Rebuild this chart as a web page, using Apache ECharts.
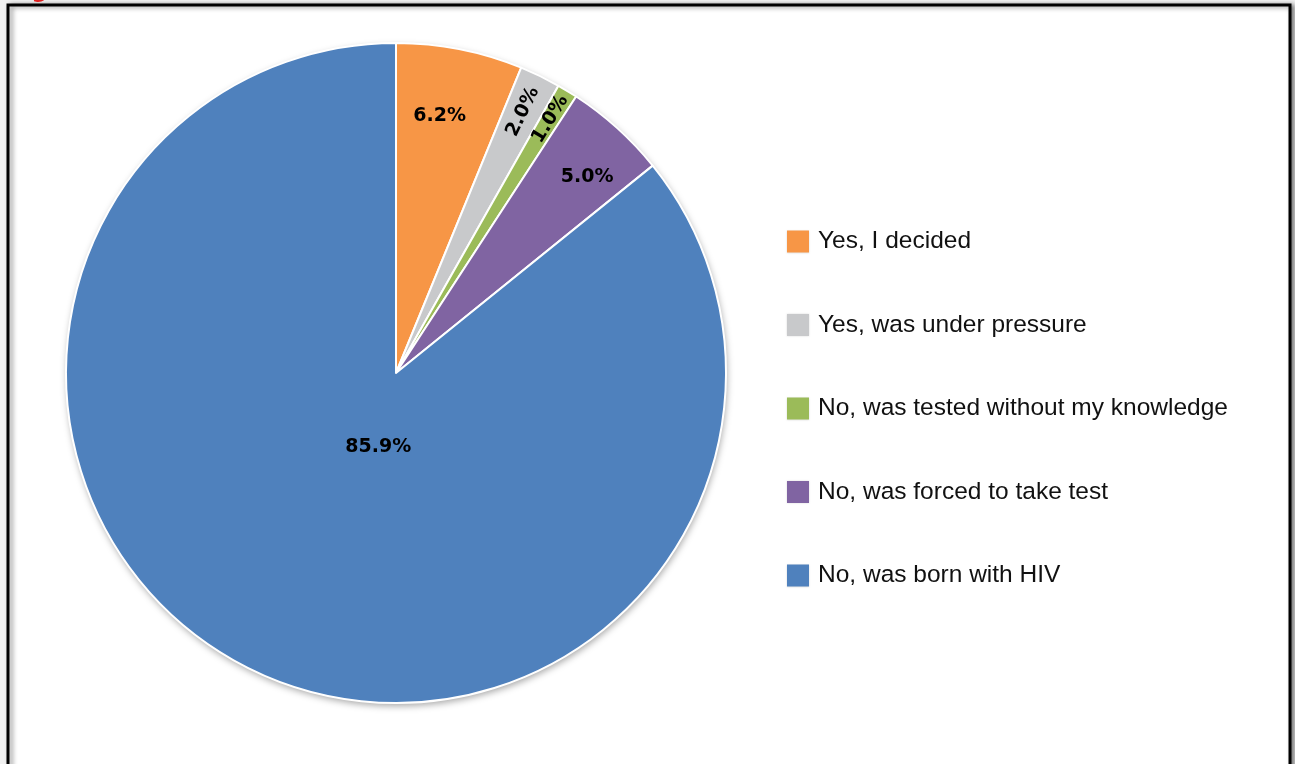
<!DOCTYPE html>
<html>
<head>
<meta charset="utf-8">
<script src="https://cdn.jsdelivr.net/npm/echarts@6/dist/echarts.min.js"></script>
<style>
  html, body { margin: 0; padding: 0; background: #f1f1f1; }
  #chart { width: 1295px; height: 764px; }
</style>
</head>
<body>
<div id="chart"></div>
<script>
// Answers to "Did you take the HIV test by your own decision?"
const categories = [
  'Yes, I decided',
  'Yes, was under pressure',
  'No, was tested without my knowledge',
  'No, was forced to take test',
  'No, was born with HIV'
];
const shares = [6.2, 2.0, 1.0, 5.0, 85.9];
const colors = ['#F79646', '#C8C9CB', '#9BBB59', '#8064A2', '#4F81BD'];
// label placement: fraction of the radius, angular nudge (deg), radial rotation
const labelReach = [0.79, 0.88, 0.90, 0.83, 0.23];
const labelTurn = [-1.5, 0, 0, 2.2, -12];
const labelRadial = [false, true, true, false, false];

const CX = 396, CY = 373, R = 330;

const total = shares.reduce((a, b) => a + b, 0);
const midAngles = [];
let acc = 0;
shares.forEach(v => { midAngles.push((acc + v / 2) / total * 2 * Math.PI); acc += v; });

const chart = echarts.init(document.getElementById('chart'), null, { renderer: 'canvas' });

chart.setOption({
  backgroundColor: 'transparent',
  animation: false,
  graphic: [
    {
      type: 'rect',
      z: 0,
      shape: { x: 8, y: 5, width: 1282, height: 790 },
      style: {
        fill: '#ffffff', stroke: '#000000', lineWidth: 3,
        shadowBlur: 5, shadowOffsetX: 3, shadowOffsetY: 1, shadowColor: 'rgba(0,0,0,0.45)'
      }
    },
    {
      type: 'text',
      z: 1,
      left: 9, top: -19,
      style: { text: 'Figure', fill: '#e02020', font: 'bold 22px "DejaVu Sans"' }
    }
  ],
  legend: {
    orient: 'vertical',
    left: 787,
    top: 229,
    padding: 0,
    itemWidth: 22,
    itemHeight: 22,
    itemGap: 58.5,
    icon: 'rect',
    selectedMode: false,
    textStyle: {
      fontFamily: '"Liberation Sans"', fontSize: 24.5, color: '#111',
      lineHeight: 22, padding: [0, 0, 0, 4]
    },
    itemStyle: { borderWidth: 0, shadowBlur: 2, shadowColor: 'rgba(0,0,0,0.15)' },
    data: categories
  },
  series: [
    {
      // soft drop shadow under the whole disc
      type: 'pie',
      silent: true,
      z: 1,
      center: [CX, CY],
      radius: R,
      label: { show: false },
      labelLine: { show: false },
      itemStyle: {
        color: '#ffffff',
        shadowBlur: 7, shadowOffsetX: 1, shadowOffsetY: 3, shadowColor: 'rgba(0,0,0,0.35)'
      },
      data: [{ value: total, name: '' }],
      legendHoverLink: false
    },
    {
      type: 'pie',
      z: 2,
      center: [CX, CY],
      radius: R,
      startAngle: 90,
      clockwise: true,
      avoidLabelOverlap: false,
      itemStyle: { borderColor: '#ffffff', borderWidth: 2 },
      label: {
        show: true,
        position: 'inside',
        formatter: p => p.value.toFixed(1) + '%',
        fontFamily: '"DejaVu Sans"',
        fontWeight: 'bold',
        fontSize: 19,
        color: '#000'
      },
      labelLine: { show: false },
      labelLayout: function (p) {
        const i = p.dataIndex;
        const a = midAngles[i] + labelTurn[i] * Math.PI / 180;
        const f = labelReach[i];
        return {
          x: CX + f * R * Math.sin(a),
          y: CY - f * R * Math.cos(a),
          align: 'center',
          verticalAlign: 'middle',
          rotate: labelRadial[i] ? 90 - midAngles[i] * 180 / Math.PI : 0
        };
      },
      data: categories.map((name, i) => ({
        name: name,
        value: shares[i],
        itemStyle: { color: colors[i] }
      }))
    }
  ]
});
</script>
</body>
</html>
